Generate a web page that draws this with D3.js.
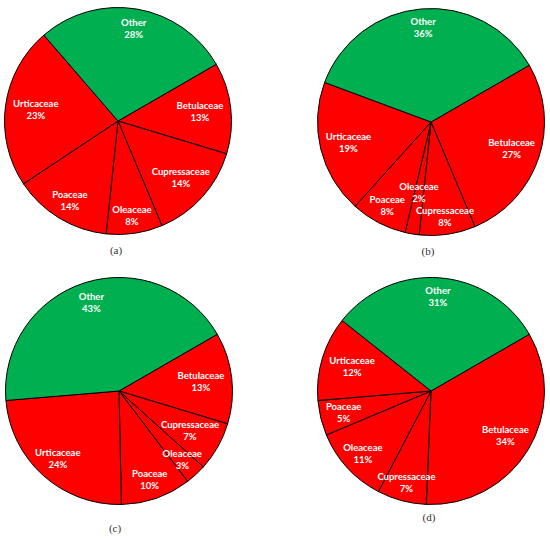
<!DOCTYPE html>
<html>
<head>
<meta charset="utf-8">
<script src="https://cdn.jsdelivr.net/npm/d3@7"></script>
<style>
  html, body { margin: 0; padding: 0; background: #fff; }
  svg { display: block; }
</style>
</head>
<body>
<div id="chart"></div>
<script>
// Pollen families, in the order the slices run clockwise
const families = ["Betulaceae", "Cupressaceae", "Oleaceae", "Poaceae", "Urticaceae", "Other"];
const panels = ["(a)", "(b)", "(c)", "(d)"];

// Percentages per panel, same order as families
const valuesA = [13, 14, 8, 14, 23, 28];
const valuesB = [27, 8, 2, 8, 19, 36];
const valuesC = [13, 7, 3, 10, 24, 43];
const valuesD = [34, 7, 11, 5, 12, 31];
const seriesValues = [valuesA, valuesB, valuesC, valuesD];

const width = 550, height = 541;
const radius = 113.5;
const lineH = 12;
const glyphH = 5;
const labelFont = "Lato, 'Open Sans', sans-serif";
const labelSize = "9.5px";

// pie centres and caption positions
const layout = [
  { cx: 118, cy: 121, capX: 116, capY: 250 },
  { cx: 431, cy: 122, capX: 428, capY: 251 },
  { cx: 119, cy: 391, capX: 115, capY: 528 },
  { cx: 431, cy: 391, capX: 429, capY: 517 }
];

const color = d3.scaleOrdinal()
  .domain(families)
  .range(["#ff0000", "#ff0000", "#ff0000", "#ff0000", "#ff0000", "#00b050"]);

const svg = d3.select("#chart").append("svg")
  .attr("width", width)
  .attr("height", height);

const pie = d3.pie()
  .sort(null)
  .value(d => d.value)
  .startAngle(Math.PI / 3)
  .endAngle(Math.PI / 3 + 2 * Math.PI);

const arc = d3.arc().innerRadius(0).outerRadius(radius);

// measuring helper
const measure = svg.append("text")
  .style("font-family", labelFont)
  .style("font-weight", "bold")
  .style("font-size", labelSize);
function textWidth(s) {
  measure.text(s);
  return measure.node().getComputedTextLength();
}

function lineBoxes(x, y, widths) {
  return widths.map((w, i) => {
    const ly = y + (i - 0.5) * lineH;
    return { x0: x - w / 2, x1: x + w / 2, y0: ly - glyphH, y1: ly + glyphH };
  });
}

function insideCircle(boxes, lim) {
  return boxes.every(b =>
    [[b.x0, b.y0], [b.x1, b.y0], [b.x0, b.y1], [b.x1, b.y1]]
      .every(([px, py]) => px * px + py * py <= lim * lim));
}

function overlaps(boxes, placed) {
  const pad = 1;
  return boxes.some(b => placed.some(p =>
    b.x0 < p.x1 + pad && b.x1 > p.x0 - pad && b.y0 < p.y1 + pad && b.y1 > p.y0 - pad));
}

seriesValues.forEach((vals, k) => {
  const pos = layout[k];
  const data = families.map((f, i) => ({ name: f, value: vals[i] }));
  const arcs = pie(data);

  const g = svg.append("g")
    .attr("transform", `translate(${pos.cx},${pos.cy})`);

  g.selectAll("path")
    .data(arcs)
    .join("path")
    .attr("d", arc)
    .style("fill", d => color(d.data.name))
    .style("stroke", "#000")
    .style("stroke-width", 1);

  // best-fit label placement: as far out as fits, moved in when labels collide
  const placed = [];
  const order = arcs.slice().sort((a, b) => b.value - a.value);
  order.forEach(d => {
    const theta = (d.startAngle + d.endAngle) / 2;
    const lines = [d.data.name, d.data.value + "%"];
    const widths = lines.map(textWidth);
    const sx = Math.sin(theta), sy = -Math.cos(theta);
    let r = radius;
    while (r > 10 && !insideCircle(lineBoxes(r * sx, r * sy, widths), radius - 6)) r -= 0.5;
    while (r > 10 && overlaps(lineBoxes(r * sx, r * sy, widths), placed)) r -= 0.5;
    const x = r * sx, y = r * sy;
    lineBoxes(x, y, widths).forEach(b => placed.push(b));

    const t = g.append("text")
      .attr("text-anchor", "middle")
      .style("font-family", labelFont)
      .style("font-weight", "bold")
      .style("font-size", labelSize)
      .style("fill", "#fff");
    lines.forEach((s, i) => {
      t.append("tspan")
        .attr("x", x)
        .attr("y", y + (i - 0.5) * lineH)
        .attr("dy", "0.35em")
        .text(s);
    });
  });

  svg.append("text")
    .attr("x", pos.capX)
    .attr("y", pos.capY)
    .attr("text-anchor", "middle")
    .attr("dy", "0.35em")
    .style("font-family", "'Liberation Serif', 'DejaVu Serif', serif")
    .style("font-size", "11px")
    .style("fill", "#333")
    .text(panels[k]);
});

measure.remove();
</script>
</body>
</html>
